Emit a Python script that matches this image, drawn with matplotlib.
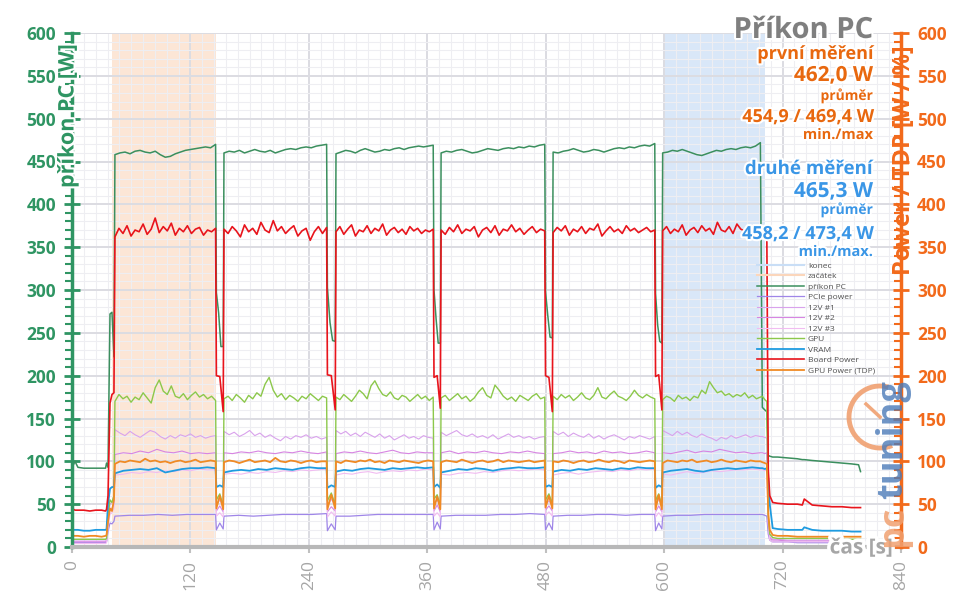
import numpy as np
import matplotlib.pyplot as plt
from matplotlib.lines import Line2D
from matplotlib.patches import Arc
import matplotlib.patheffects as pe

plt.rcParams['font.family'] = ['Open Sans', 'DejaVu Sans']

# ---- time structure (s) ----
run_start = [43.5, 154.0, 267.5, 374.0, 487.5, 598.5]
run_end = [145.5, 258.0, 366.0, 479.0, 590.5, 697.5]
t_pre = [0, 1.5, 3, 6, 12, 18, 24, 30, 34, 35, 36.5, 38.5, 40.5, 42.5]
t_post = [699.5, 702, 704, 705.5, 707, 710, 715, 725, 735, 740, 742, 750, 760, 770, 780, 790, 797, 799]
span_start = (40.2, 145.6)   # "začátek"
span_end = (598.4, 702.0)    # "konec"

# ---- příkon PC ----
pc_pre = [95, 96, 100, 93, 92, 92, 92, 92, 92, 98, 93, 272, 274, 222]
pc_runs = [
    [458, 460, 461, 459, 462, 463, 461, 460, 462, 458, 455, 456, 459, 461, 463, 464, 465, 466, 467, 466, 470],
    [460, 462, 461, 463, 460, 462, 464, 462, 461, 463, 460, 462, 464, 465, 464, 466, 467, 466, 468, 469, 470],
    [459, 461, 463, 462, 460, 463, 465, 463, 461, 462, 464, 463, 465, 466, 464, 466, 467, 468, 467, 468, 469],
    [460, 462, 461, 463, 464, 462, 460, 461, 463, 465, 464, 463, 465, 466, 465, 467, 466, 468, 467, 469, 470],
    [461, 460, 462, 463, 465, 463, 461, 462, 464, 463, 461, 463, 465, 466, 465, 467, 466, 468, 469, 468, 471],
    [460, 461, 463, 462, 464, 462, 460, 458, 457, 459, 461, 463, 462, 464, 465, 464, 466, 467, 466, 468, 472],
]
pc_gaps = [[297, 273, 234, 234], [303, 262, 241, 240], [300, 266, 238, 238], [298, 270, 245, 244], [296, 259, 240, 238]]
pc_post = [163, 160, 158, 107, 106, 105, 105, 104, 103, 102, 102, 101, 100, 99, 98, 97, 96, 88]

# ---- PCIe power ----
pcie_pre = [5, 5, 5, 5, 5, 5, 5, 5, 5, 6, 18, 28, 27, 30]
pcie_runs = [
    [36, 37, 37, 38, 37, 38, 38, 38],
    [36, 37, 36, 37, 38, 38, 38, 39],
    [36, 36, 37, 38, 38, 38, 38, 38],
    [36, 37, 37, 37, 38, 38, 39, 38],
    [36, 37, 37, 38, 38, 37, 38, 38],
    [36, 37, 37, 38, 38, 38, 38, 38],
]
pcie_gaps = [[20, 28, 21], [19, 27, 20], [20, 29, 21], [20, 28, 20], [19, 28, 21]]
pcie_post = [38, 37, 36, 15, 8, 6, 6, 6, 5, 5, 5, 5, 5, 5, 5, 5, 5, 5]

# ---- 12V #1 ----
v1_pre = [7, 7, 7, 7, 7, 7, 7, 7, 7, 8, 30, 50, 52, 60]
v1_runs = [
    [137, 133, 130, 135, 131, 128, 132, 136, 134, 129, 126, 130, 127, 131, 129, 132, 128, 130, 127, 129, 130],
    [135, 131, 134, 129, 132, 136, 130, 133, 128, 131, 127, 124, 129, 126, 130, 128, 131, 127, 129, 126, 128],
    [136, 132, 135, 130, 133, 129, 134, 131, 128, 132, 127, 130, 125, 128, 131, 127, 129, 126, 130, 128, 127],
    [134, 130, 133, 136, 131, 129, 132, 128, 130, 127, 131, 126, 129, 132, 128, 130, 127, 129, 126, 128, 129],
    [135, 131, 134, 129, 133, 130, 128, 132, 127, 130, 126, 129, 131, 128, 125, 129, 127, 130, 128, 126, 129],
    [136, 133, 130, 135, 131, 134, 130, 128, 132, 129, 127, 124, 128, 126, 130, 127, 129, 131, 128, 130, 129],
]
v1_gaps = [[48, 55, 47], [47, 56, 48], [49, 55, 47], [48, 54, 48], [47, 56, 47]]
v1_post = [129, 128, 127, 30, 12, 9, 9, 8, 8, 8, 8, 8, 8, 8, 8, 8, 8, 8]

# ---- 12V #2 ----
v2_pre = [6, 6, 6, 6, 6, 6, 6, 6, 6, 7, 26, 44, 45, 50]
v2_runs = [
    [108, 110, 109, 112, 110, 114, 111, 110, 112, 109, 110, 109, 110],
    [110, 109, 111, 110, 112, 110, 109, 111, 110, 112, 110, 109, 111],
    [109, 111, 110, 112, 110, 109, 111, 113, 110, 109, 111, 110, 110],
    [110, 112, 109, 111, 110, 112, 110, 109, 111, 110, 112, 110, 109],
    [109, 110, 112, 110, 111, 109, 112, 110, 111, 109, 110, 112, 110],
    [110, 109, 111, 113, 110, 112, 111, 114, 112, 110, 111, 109, 110],
]
v2_gaps = [[42, 48, 41], [41, 47, 42], [42, 49, 41], [43, 48, 42], [41, 48, 41]]
v2_post = [110, 109, 110, 28, 10, 8, 8, 7, 7, 7, 7, 7, 7, 7, 7, 7, 7, 7]

# ---- 12V #3 ----
v3_pre = [4, 4, 4, 4, 4, 4, 4, 4, 4, 5, 22, 38, 40, 45]
v3_runs = [
    [84, 85, 87, 86, 88, 87, 89, 88, 90, 89, 91, 90, 90],
    [85, 86, 85, 87, 86, 88, 87, 89, 88, 90, 89, 90, 91],
    [84, 86, 85, 87, 88, 86, 88, 89, 88, 90, 89, 91, 90],
    [85, 84, 86, 87, 86, 88, 87, 89, 90, 89, 90, 91, 90],
    [84, 86, 87, 85, 87, 88, 89, 88, 90, 89, 91, 90, 91],
    [85, 84, 86, 88, 86, 87, 89, 88, 89, 90, 90, 91, 90],
]
v3_gaps = [[36, 40, 35], [35, 41, 36], [36, 40, 35], [37, 41, 36], [35, 40, 35]]
v3_post = [90, 89, 90, 25, 8, 6, 6, 6, 6, 6, 6, 6, 6, 6, 6, 6, 6, 6]

# ---- GPU ----
gpu_pre = [9, 9, 9, 9, 9, 9, 9, 9, 9, 10, 35, 55, 52, 60]
gpu_runs = [
    [170, 178, 173, 176, 169, 175, 172, 180, 174, 168, 186, 195, 182, 178, 188, 176, 174, 179, 172, 177, 181, 175, 178, 173, 176, 171],
    [173, 176, 171, 178, 174, 169, 177, 173, 180, 176, 190, 198, 183, 175, 179, 172, 177, 174, 170, 176, 173, 179, 175, 171, 176, 174],
    [175, 172, 178, 174, 170, 176, 183, 179, 173, 188, 194, 185, 178, 176, 181, 174, 172, 177, 175, 170, 174, 178, 173, 176, 171, 175],
    [174, 177, 171, 175, 179, 173, 176, 170, 174, 181, 186, 177, 174, 189, 183, 176, 172, 175, 170, 177, 174, 171, 176, 179, 173, 175],
    [176, 172, 178, 174, 177, 171, 175, 180, 174, 172, 177, 186, 175, 173, 178, 182, 176, 174, 171, 176, 183, 177, 174, 178, 175, 173],
    [172, 176, 174, 170, 177, 173, 175, 171, 176, 174, 183, 179, 193, 186, 180, 182, 177, 179, 175, 178, 176, 180, 174, 177, 173, 175],
]
gpu_gaps = [[55, 62, 48], [54, 63, 49], [56, 61, 48], [55, 62, 50], [54, 62, 48]]
gpu_post = [176, 172, 170, 35, 15, 11, 10, 10, 10, 10, 10, 10, 10, 10, 9, 9, 9, 9]

# ---- VRAM ----
vram_pre = [20, 20, 20, 20, 19, 19, 20, 20, 20, 21, 50, 68, 70, 70]
vram_runs = [
    [86, 89, 90, 91, 90, 92, 87, 89, 91, 92, 92, 93, 92],
    [87, 89, 90, 89, 91, 90, 92, 91, 90, 92, 93, 92, 92],
    [88, 90, 89, 91, 92, 91, 90, 92, 91, 92, 93, 92, 93],
    [87, 89, 91, 90, 92, 91, 89, 91, 92, 93, 92, 92, 93],
    [88, 90, 89, 91, 90, 92, 91, 90, 92, 91, 93, 92, 92],
    [87, 89, 90, 91, 89, 88, 90, 91, 92, 91, 92, 93, 92],
]
vram_gaps = [[70, 72, 70], [69, 72, 70], [70, 73, 69], [70, 72, 70], [69, 72, 70]]
vram_post = [92, 91, 92, 80, 50, 22, 21, 20, 20, 20, 23, 20, 19, 19, 19, 18, 18, 18]

# ---- Board Power ----
red_pre = [44, 44, 43, 43, 43, 42, 43, 43, 42, 44, 60, 168, 178, 180]
red_runs = [
    [362, 372, 366, 375, 363, 370, 368, 377, 365, 371, 384, 367, 374, 369, 378, 364, 372, 368, 375, 366, 371, 373, 364, 370, 368, 372],
    [371, 366, 374, 369, 362, 376, 368, 372, 365, 379, 370, 367, 381, 369, 374, 366, 371, 375, 363, 369, 372, 358, 368, 374, 366, 373],
    [368, 374, 365, 371, 376, 363, 370, 368, 375, 366, 372, 369, 377, 364, 370, 373, 367, 371, 365, 374, 369, 372, 366, 370, 368, 371],
    [370, 365, 373, 368, 376, 366, 371, 369, 374, 362, 370, 373, 367, 375, 364, 371, 369, 376, 368, 372, 365, 370, 374, 367, 371, 369],
    [367, 373, 369, 375, 364, 371, 368, 374, 366, 372, 370, 377, 363, 369, 374, 368, 371, 366, 375, 369, 372, 367, 370, 373, 368, 370],
    [369, 374, 366, 371, 368, 376, 364, 370, 373, 367, 375, 369, 372, 365, 379, 370, 368, 374, 366, 377, 371, 369, 375, 367, 372, 370],
]
red_gaps = [[200, 199, 158], [201, 200, 160], [198, 200, 162], [200, 198, 158], [199, 201, 160]]
red_post = [371, 368, 372, 90, 60, 52, 51, 50, 50, 49, 56, 49, 48, 47, 47, 46, 46, 46]

# ---- GPU Power (TDP) ----
tdp_pre = [13, 13, 13, 13, 12, 13, 13, 12, 13, 14, 30, 45, 42, 55]
tdp_runs = [
    [97, 100, 99, 101, 100, 99, 103, 100, 101, 99, 100, 98, 100, 101, 99, 100, 102, 99, 100, 101, 100],
    [99, 101, 100, 98, 100, 102, 99, 100, 101, 99, 104, 100, 99, 101, 100, 98, 100, 101, 99, 100, 100],
    [100, 98, 101, 100, 99, 101, 100, 102, 99, 100, 98, 101, 100, 99, 101, 100, 99, 98, 100, 101, 100],
    [99, 101, 100, 99, 102, 100, 98, 100, 101, 99, 100, 102, 99, 101, 100, 99, 100, 101, 99, 100, 101],
    [100, 99, 101, 100, 98, 100, 101, 99, 100, 102, 100, 99, 101, 100, 98, 101, 100, 99, 100, 101, 100],
    [98, 101, 100, 99, 101, 100, 102, 99, 100, 101, 99, 100, 102, 100, 99, 101, 100, 99, 101, 100, 100],
]
tdp_gaps = [[45, 60, 44], [44, 61, 45], [45, 59, 44], [46, 60, 45], [44, 61, 44]]
tdp_post = [99, 98, 97, 40, 20, 14, 13, 13, 12, 12, 12, 12, 12, 12, 12, 12, 12, 12]

labels = ['konec', 'začátek', 'příkon PC', 'PCIe power', '12V #1', '12V #2', '12V #3',
          'GPU', 'VRAM', 'Board Power', 'GPU Power (TDP)']
colors = ['#c9def6', '#fbd6bb', '#3b8f5e', '#9f86e8', '#d9a2ec', '#d785e2', '#f1bcf1',
          '#8cc84b', '#1e9be0', '#e8141c', '#f08a24']
widths = [1.5, 1.5, 1.1, 0.9, 0.8, 0.8, 0.8, 1.0, 1.3, 1.2, 1.3]


def build(pre, runs, gaps, post):
    t, v = list(t_pre), list(pre)
    for k in range(len(runs)):
        t += list(np.linspace(run_start[k], run_end[k], len(runs[k])))
        v += runs[k]
        if k < len(gaps):
            t += list(np.linspace(run_end[k] + 0.8, run_start[k + 1] - 0.8, len(gaps[k])))
            v += gaps[k]
    t += t_post
    v += post
    return t, v


series = [
    (pc_pre, pc_runs, pc_gaps, pc_post),
    (pcie_pre, pcie_runs, pcie_gaps, pcie_post),
    (v1_pre, v1_runs, v1_gaps, v1_post),
    (v2_pre, v2_runs, v2_gaps, v2_post),
    (v3_pre, v3_runs, v3_gaps, v3_post),
    (gpu_pre, gpu_runs, gpu_gaps, gpu_post),
    (vram_pre, vram_runs, vram_gaps, vram_post),
    (red_pre, red_runs, red_gaps, red_post),
    (tdp_pre, tdp_runs, tdp_gaps, tdp_post),
]

W, H = 960, 605
def fx(x): return x / W
def fy(y): return 1 - y / H

GREEN = '#2f9563'
ORANGE = '#f26a1b'
GRAY = '#a6a6a6'

fig = plt.figure(figsize=(9.6, 6.05), dpi=100)
ax = fig.add_axes([fx(72), fy(547), (901 - 72) / W, (547 - 33) / H])
ax.set_xlim(0, 840)
ax.set_ylim(0, 600)

ax.axvspan(*span_start, color=colors[1], alpha=0.6, lw=0, zorder=0.2)
ax.axvspan(*span_end, color=colors[0], alpha=0.7, lw=0, zorder=0.2)

ax.set_xticks(np.arange(0, 841, 120))
ax.set_xticks(np.arange(0, 841, 12), minor=True)
ax.set_yticks(np.arange(0, 601, 50))
ax.set_yticks(np.arange(0, 601, 10), minor=True)
ax.set_axisbelow(True)
ax.grid(which='major', color='#dcdce2', lw=1.4)
ax.grid(which='minor', color='#eeeef2', lw=0.8)

handles = [Line2D([], [], color=colors[0], lw=1.5), Line2D([], [], color=colors[1], lw=1.5)]
for (pre, runs, gaps, post), lab, col, lw in zip(series, labels[2:], colors[2:], widths[2:]):
    t, v = build(pre, runs, gaps, post)
    h, = ax.plot(t, v, color=col, lw=lw, label=lab, zorder=2)
    handles.append(h)

for s in ['top', 'right']:
    ax.spines[s].set_visible(False)
ax.spines['left'].set_color(GREEN)
ax.spines['left'].set_linewidth(2.5)
ax.spines['bottom'].set_color('#b8b8b8')
ax.spines['bottom'].set_linewidth(3)

ax.tick_params(axis='y', which='major', direction='inout', length=11, width=2,
               color=GREEN, labelcolor=GREEN, labelsize=12.5, pad=6)
ax.tick_params(axis='y', which='minor', direction='out', length=5, width=1.5, color=GREEN)
ax.tick_params(axis='x', which='major', direction='out', length=4, width=1.5,
               color='#c0c0c0', labelcolor=GRAY, labelsize=12.5, labelrotation=90, pad=5)
ax.tick_params(axis='x', which='minor', length=0)
for lbl in ax.get_yticklabels():
    lbl.set_fontweight('bold')

ax2 = ax.twinx()
ax2.set_ylim(0, 600)
ax2.set_yticks(np.arange(0, 601, 50))
ax2.set_yticks(np.arange(0, 601, 10), minor=True)
for s in ['top', 'left', 'bottom']:
    ax2.spines[s].set_visible(False)
ax2.spines['right'].set_color(ORANGE)
ax2.spines['right'].set_linewidth(2.5)
ax2.tick_params(axis='y', which='major', direction='inout', length=11, width=2,
                color=ORANGE, labelcolor=ORANGE, labelsize=12.5, pad=6)
ax2.tick_params(axis='y', which='minor', direction='in', length=5, width=1.5, color=ORANGE)
for lbl in ax2.get_yticklabels():
    lbl.set_fontweight('bold')

glow = [pe.withStroke(linewidth=3, foreground='white')]

fig.text(fx(68), fy(116), 'příkon PC [W]', rotation=90, ha='center', va='center',
         fontsize=15.5, fontweight='bold', color=GREEN, path_effects=glow)
fig.text(fx(904), fy(160), 'Power / TDP [W / %]', rotation=90, ha='center', va='center',
         fontsize=17, fontweight='bold', color=ORANGE)
fig.text(fx(893), fy(548), 'čas [s]', ha='right', va='center', fontsize=15,
         fontweight='bold', color=GRAY, path_effects=[pe.withStroke(linewidth=5, foreground='white')])

OR_T = '#e8680f'
BL_T = '#3a96e6'
info = [
    ('Příkon PC', 38, 21, '#7f7f7f'),
    ('první měření', 59, 13, OR_T),
    ('462,0 W', 81, 15, OR_T),
    ('průměr', 100, 10, OR_T),
    ('454,9 / 469,4 W', 122, 13, OR_T),
    ('min./max', 139, 10.5, OR_T),
    ('druhé měření', 174, 13.5, BL_T),
    ('465,3 W', 197, 15, BL_T),
    ('průměr', 214, 10, BL_T),
    ('458,2 / 473,4 W', 239, 13, BL_T),
    ('min./max.', 256, 10.5, BL_T),
]
for txt, y, size, col in info:
    fig.text(fx(873), fy(y), txt, ha='right', va='baseline', fontsize=size,
             fontweight='bold', color=col, path_effects=glow, zorder=5)

leg = ax.legend(handles=handles, labels=labels, loc='upper left',
                bbox_to_anchor=(fx(757), fy(262)), bbox_transform=fig.transFigure,
                frameon=False, fontsize=6, handlelength=5.6, handletextpad=0.5,
                labelspacing=0.32, borderpad=0, borderaxespad=0)
for t in leg.get_texts():
    t.set_color('#505050')

# pctuning watermark
fig.add_artist(Arc((fx(880), fy(417)), 62 / W, 62 / H, theta1=80, theta2=285,
                   transform=fig.transFigure, color='#f0a070', lw=3.5, alpha=0.9))
fig.add_artist(Line2D([fx(880), fx(866)], [fy(417), fy(404)], transform=fig.transFigure,
                      color='#f0a070', lw=2.5, alpha=0.9))
fig.text(fx(893), fy(547), 'pc', rotation=90, ha='center', va='bottom', fontsize=26,
         fontweight='bold', color='#f0a070', alpha=0.85)
fig.text(fx(893), fy(499), 'tuning', rotation=90, ha='center', va='bottom', fontsize=26,
         fontweight='bold', color='#4a7ab8', alpha=0.8)

fig.savefig('out.png', dpi=100)
